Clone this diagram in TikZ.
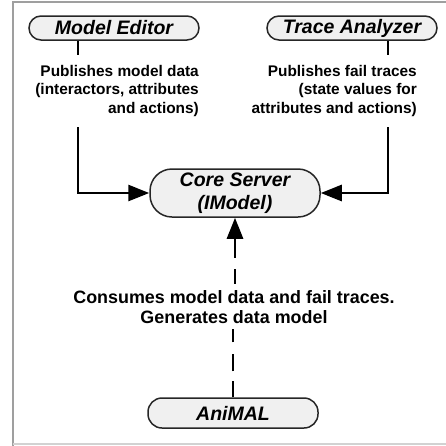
\documentclass[tikz,border=0pt]{standalone}
\usepackage{fontspec}
\setmainfont{Liberation Sans}
\usetikzlibrary{arrows.meta}
\begin{document}
\begin{tikzpicture}[x=1pt,y=1pt,
  box/.style={draw=black!85, line width=1.5pt, fill=black!6, minimum width=170pt, inner sep=0pt,
    font=\fontsize{19.5}{23}\selectfont\bfseries\itshape, align=center},
  lbl/.style={fill=white, inner xsep=2pt, inner ysep=10pt, font=\fontsize{15.4}{18.5}\selectfont\bfseries},
  conn/.style={line width=2.6pt, black},
  tip/.style={-{Triangle[length=21pt,width=16pt]}},
  rtip/.style={{Triangle[length=21pt,width=16pt]}-}]
\useasboundingbox (0,0) rectangle (446,-445);
% frame
\draw[gray!75, line width=2.8pt] (13,-450) -- (13,-2) -- (450,-2);
\draw[gray!35, line width=2pt] (13,-444) -- (450,-444);
% boxes
\node[box, minimum height=24pt, rounded corners=12pt] (me) at (114,-28) {Model Editor};
\node[box, minimum height=24pt, rounded corners=12pt] (ta) at (352,-28) {Trace Analyzer};
\node[box, minimum height=48pt, rounded corners=22pt] (core) at (235,-193) {Core Server\\(IModel)};
\node[box, minimum height=30pt, rounded corners=14pt] (ani) at (233,-413) {AniMAL};
% connectors
\coordinate (c1) at (78,-192);
\coordinate (c2) at (388,-192);
\draw[conn, tip] (me.south -| c1) |- (core.west);
\draw[conn, tip] (ta.south -| c2) |- (core.east);
% labels
\node[lbl, align=right, anchor=east] (l1) at (201,-91) {Publishes model data\\(interactors, attributes\\and actions)};
\node[lbl, align=right, anchor=east] (l2) at (419,-91) {Publishes fail traces\\(state values for\\attributes and actions)};
\node[lbl, inner ysep=4pt, align=center, font=\fontsize{17.9}{20}\selectfont\bfseries] (l3) at (234,-307) {Consumes model data and fail traces.\\Generates data model};
\draw[conn, rtip, dash pattern=on 20pt off 11pt on 15pt off 30pt] (core.south) -- (core.south |- l3.north);
\draw[conn, dash pattern=on 16pt off 10pt on 17pt off 12pt on 13pt off 30pt] (ani.north) -- (ani.north |- l3.south);
\end{tikzpicture}
\end{document}
